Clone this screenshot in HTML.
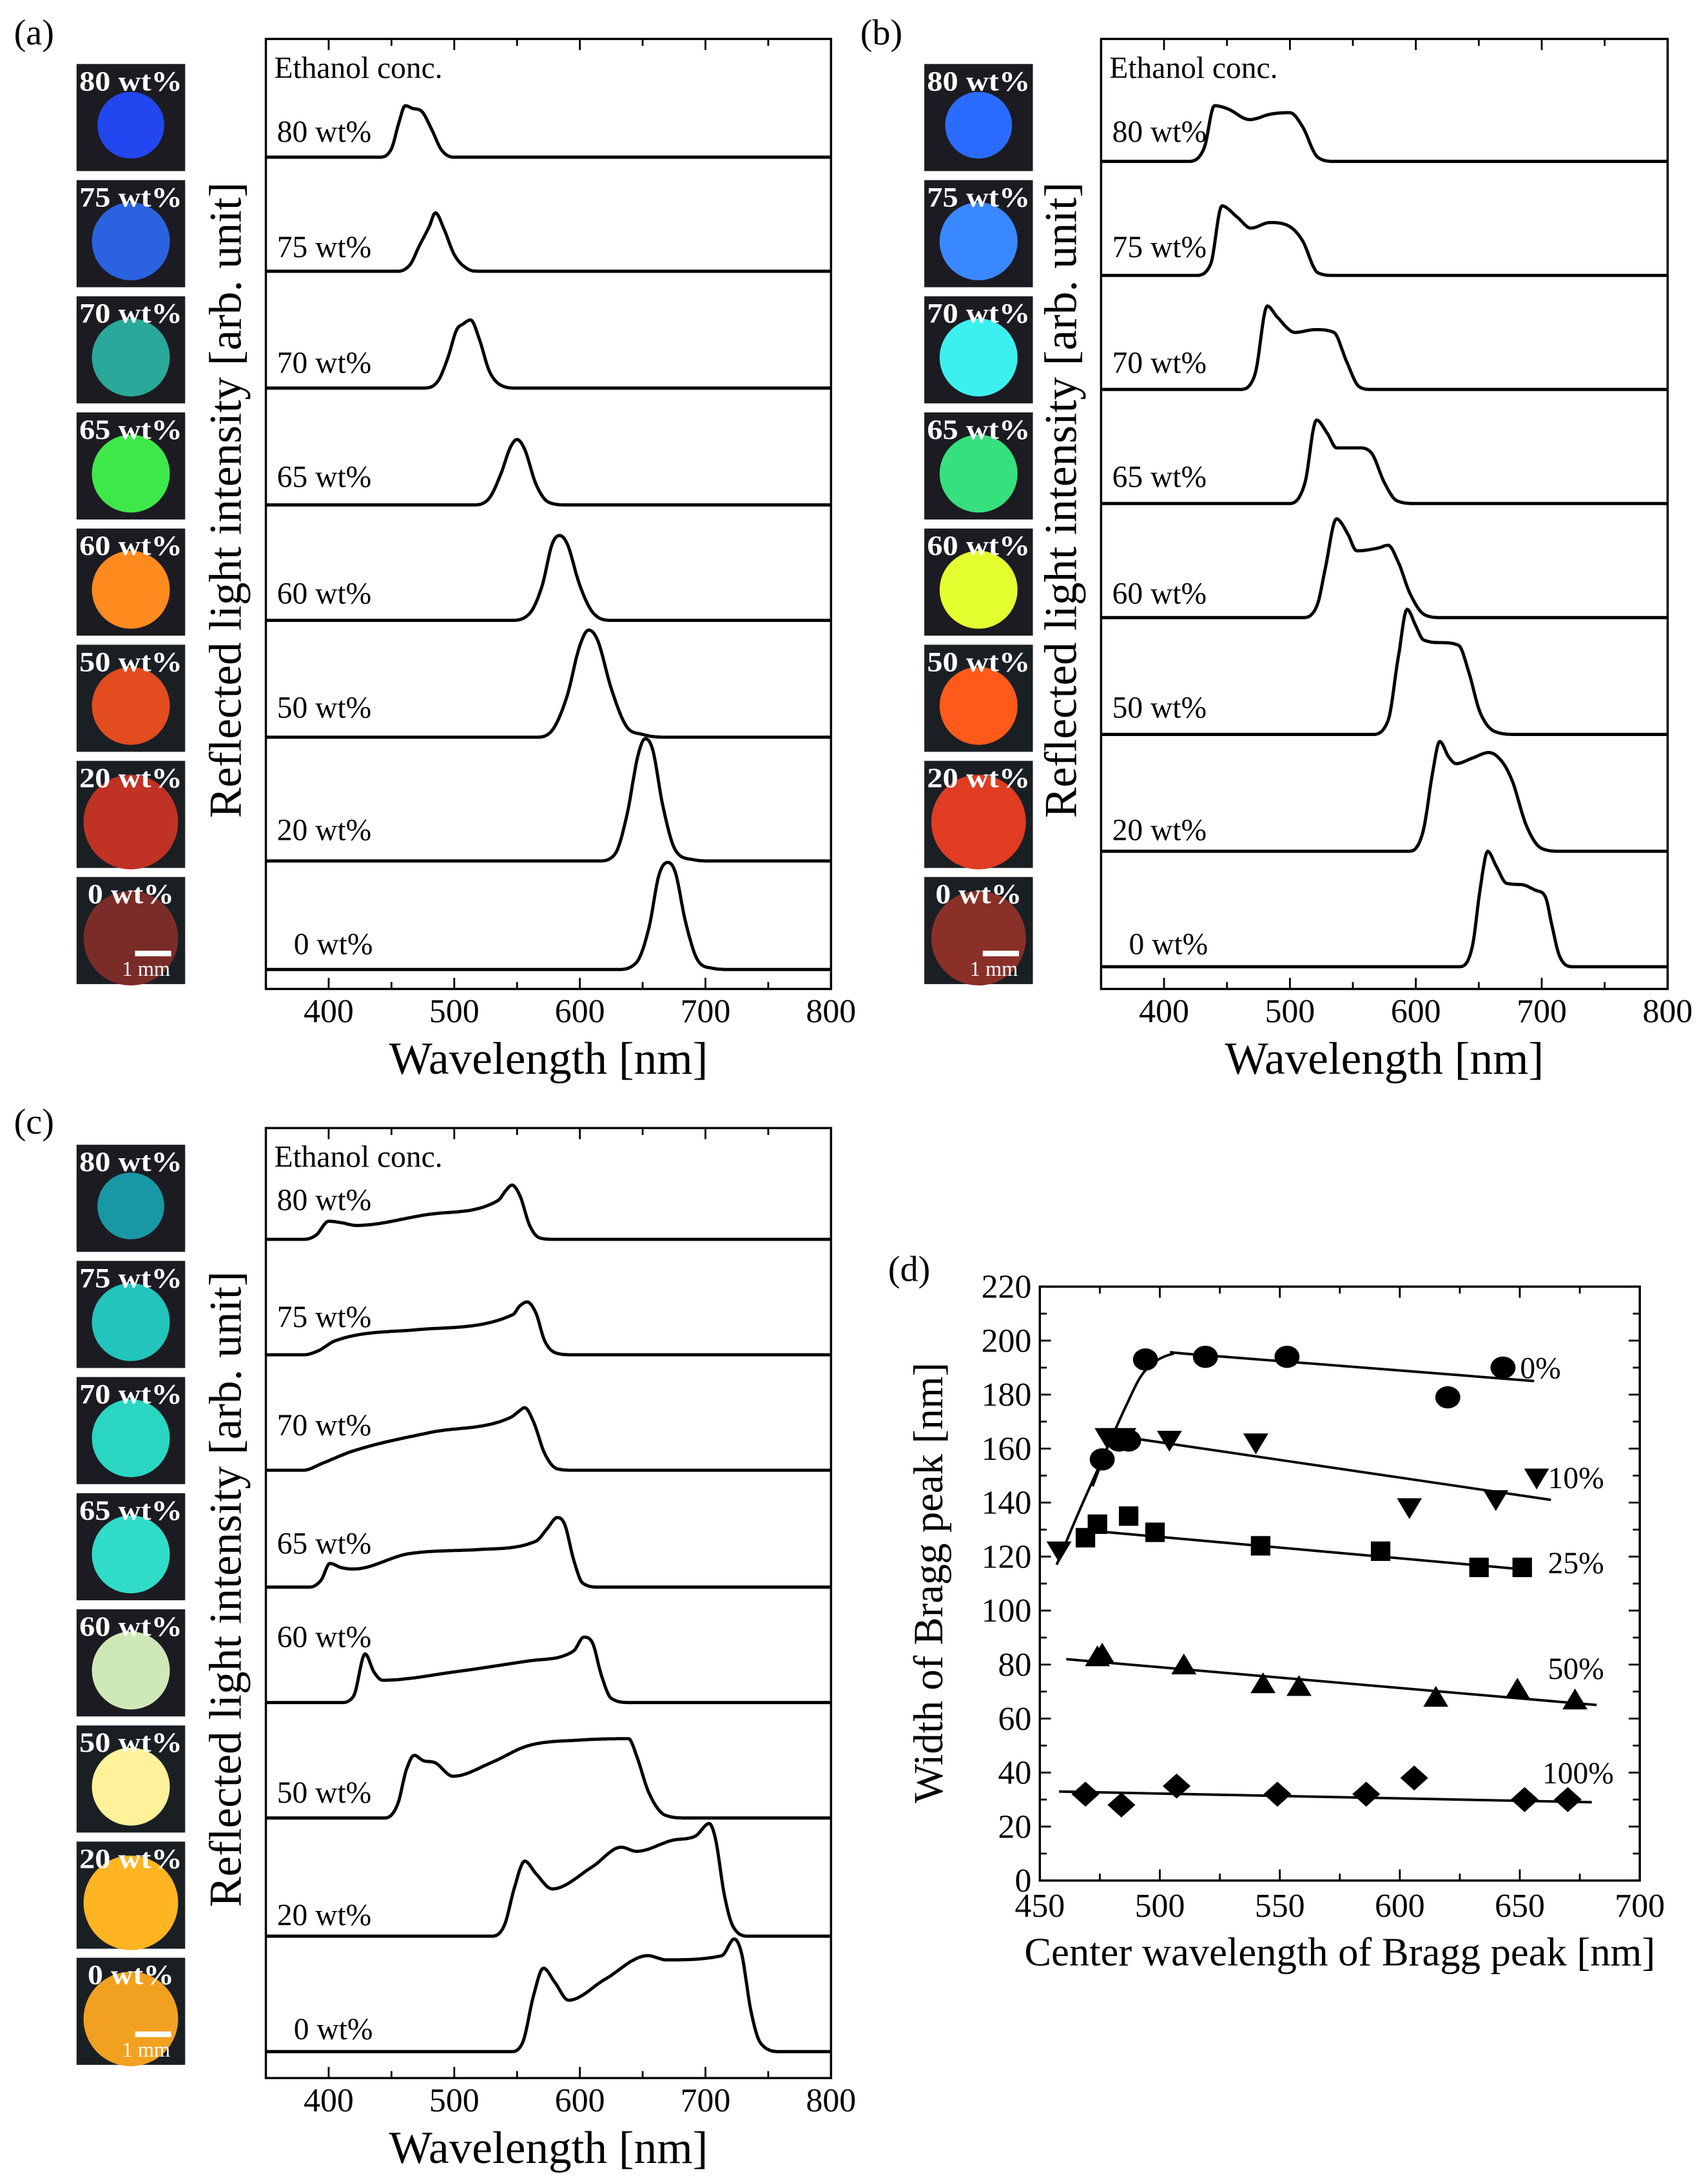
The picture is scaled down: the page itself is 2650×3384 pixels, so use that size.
<!DOCTYPE html>
<html><head><meta charset="utf-8"><style>
html,body{margin:0;padding:0;background:#fff}
svg{display:block}
text{font-family:"Liberation Serif",serif;fill:#000}
</style></head><body>
<svg id="fig" width="2650" height="3384" viewBox="0 0 1227 1568" preserveAspectRatio="none" xmlns="http://www.w3.org/2000/svg">
<rect width="1227" height="1568" fill="#fff"/>
</svg>
<script>
// ---------- spectra data: [wavelength nm, relative height] ----------
const labels = ["80 wt%","75 wt%","70 wt%","65 wt%","60 wt%","50 wt%","20 wt%","0 wt%"];
const specA = [
 [[440,0],[450,6],[456,25],[461,37],[467,35],[474,33],[482,20],[490,5],[500,0]],
 [[455,0],[465,5],[472,18],[480,32],[485,42],[492,30],[500,12],[510,2],[520,0]],
 [[475,0],[487,5],[495,22],[502,42],[507,46],[513,49],[520,35],[528,12],[540,1],[550,0]],
 [[515,0],[528,5],[537,22],[545,42],[550,47],[556,40],[565,15],[575,2],[590,0]],
 [[545,0],[560,5],[570,25],[578,55],[584,61],[590,55],[600,25],[610,6],[625,0]],
 [[565,0],[578,5],[590,30],[600,66],[607,77],[614,70],[625,35],[637,8],[650,2],[670,0]],
 [[615,0],[628,5],[638,35],[646,75],[652,88],[658,80],[666,40],[676,8],[690,1],[705,0]],
 [[630,0],[645,5],[655,30],[663,68],[670,77],[676,70],[684,35],[693,8],[705,1],[720,0]]
];
const specB = [
 [[420,0],[432,10],[440,40],[450,38],[468,30],[485,34],[500,35],[510,25],[522,3],[535,0]],
 [[425,0],[437,8],[446,50],[458,42],[469,34],[484,38],[500,35],[510,25],[522,2],[535,0]],
 [[460,0],[472,10],[482,60],[490,52],[504,41],[520,43],[535,41],[545,20],[555,2],[565,0]],
 [[500,0],[512,15],[521,60],[530,50],[537,40],[555,40],[565,36],[575,15],[585,2],[600,0]],
 [[510,0],[522,10],[528,35],[537,71],[546,60],[553,48],[570,50],[578,52],[586,40],[595,18],[607,2],[620,0]],
 [[565,0],[578,10],[586,55],[593,90],[600,78],[606,68],[620,66],[634,64],[642,45],[651,16],[663,2],[680,0]],
 [[595,0],[606,15],[613,55],[619,79],[626,68],[632,63],[645,67],[658,71],[668,65],[676,52],[688,18],[700,2],[715,0]],
 [[635,0],[645,15],[651,55],[657,83],[664,72],[672,60],[684,59],[695,55],[703,50],[708,30],[714,8],[725,0]]
];
const specC = [
 [[380,0],[390,3],[400,13],[410,12],[422,10],[480,18],[535,28],[541,35],[546,39],[552,32],[560,10],[568,1],[580,0]],
 [[380,0],[392,3],[405,10],[470,18],[547,29],[552,35],[558,38],[565,30],[572,10],[582,1],[595,0]],
 [[380,0],[395,5],[420,14],[480,27],[545,38],[551,42],[556,45],[563,35],[572,12],[582,1],[595,0]],
 [[385,0],[394,5],[401,17],[410,14],[420,13],[464,24],[520,27],[565,33],[574,42],[582,50],[588,45],[595,20],[602,3],[615,0]],
 [[410,0],[420,5],[429,35],[436,22],[443,16],[500,22],[560,30],[595,37],[603,47],[610,43],[617,20],[625,3],[640,0]],
 [[445,0],[455,10],[462,35],[468,45],[476,41],[484,40],[499,30],[530,40],[559,52],[600,56],[639,57],[645,45],[655,18],[668,2],[685,0]],
 [[530,0],[540,8],[548,35],[556,54],[565,45],[578,34],[610,50],[633,64],[645,61],[674,69],[692,72],[703,81],[708,70],[715,30],[722,7],[735,0]],
 [[545,0],[555,8],[563,40],[571,60],[580,50],[591,37],[620,52],[654,69],[669,66],[713,69],[723,81],[729,70],[736,30],[744,6],[760,0]]
];
const xTicks = [400,500,600,700,800];
const colorsA = ["#2246f0","#2a62e0","#2aa89a","#3fe84a","#ff8a1e","#e24c1e","#bf3224","#7a2c28"];
const colorsB = ["#2a6cff","#3a88ff","#3cf0f0","#36e07c","#e4ff30","#ff5a1c","#e03c22","#8a3028"];
const colorsC = ["#1898a4","#22c4bc","#2ad6c2","#30dcc8","#cfe8b8","#fff29a","#ffb422","#f2a020"];
// ---------- panel d data ----------
const dX = [450,500,550,600,650,700];
const dY = [0,20,40,60,80,100,120,140,160,180,200,220];
const s0x=[476,483,487,494,519,553,620,643], s0y=[156,163,163,193,194,194,179,190];
const s10x=[458,478,485,504,540,604,640,657], s10y=[122,164,164,163,162,138,141,149];
const s25x=[469,474,487,498,542,592,633,651], s25y=[127,132,135,129,124,122,116,116];
const s50x=[474,476,510,543,558,615,649,673], s50y=[83,84,80,73,72,68,71,67];
const s100x=[469,484,507,549,586,606,652,670], s100y=[32,28,35,32,32,38,30,30];
const fit0x=[457,466,476,486,494,505,520,656], fit0y=[117,136,156,176,189,195,194.5,185];
const fit10x=[472,480,663], fit10y=[146,165,141];
const fit25x=[466,655], fit25y=[130,115];
const fit50x=[461,682], fit50y=[82,65];
const fit100x=[458,680], fit100y=[33,29];

const NS="http://www.w3.org/2000/svg";
const svg=document.getElementById('fig');
function mk(tag,attrs,parent,txt){const e=document.createElementNS(NS,tag);for(const k in attrs)e.setAttribute(k,attrs[k]);if(txt!==undefined)e.textContent=txt;(parent||svg).appendChild(e);return e;}
function monotone(xa,ya){
 const n=xa.length,d=[],m=new Array(n).fill(0);
 for(let i=0;i<n-1;i++)d.push((ya[i+1]-ya[i])/(xa[i+1]-xa[i]));
 m[0]=d[0];m[n-1]=d[n-2];
 for(let i=1;i<n-1;i++){m[i]=(d[i-1]*d[i]<=0)?0:(d[i-1]+d[i])/2;}
 for(let i=0;i<n-1;i++){if(d[i]===0){m[i]=0;m[i+1]=0;continue;}
  const a=m[i]/d[i],b=m[i+1]/d[i],s=a*a+b*b;if(s>9){const t=3/Math.sqrt(s);m[i]=t*a*d[i];m[i+1]=t*b*d[i];}}
 return function(x){let i=0;while(i<n-2&&x>xa[i+1])i++;
  const h=xa[i+1]-xa[i],t=(x-xa[i])/h,t2=t*t,t3=t2*t;
  return (2*t3-3*t2+1)*ya[i]+(t3-2*t2+t)*h*m[i]+(-2*t3+3*t2)*ya[i+1]+(t3-t2)*h*m[i+1];};
}
function smoothPath(pts){
 let d="M"+pts[0][0].toFixed(1)+","+pts[0][1].toFixed(1);
 for(let i=0;i<pts.length-1;i++){
  const p0=pts[Math.max(0,i-1)],p1=pts[i],p2=pts[i+1],p3=pts[Math.min(pts.length-1,i+2)];
  const c1x=p1[0]+(p2[0]-p0[0])/6,c1y=p1[1]+(p2[1]-p0[1])/6,c2x=p2[0]-(p3[0]-p1[0])/6,c2y=p2[1]-(p3[1]-p1[1])/6;
  d+=" C"+c1x.toFixed(1)+","+c1y.toFixed(1)+" "+c2x.toFixed(1)+","+c2y.toFixed(1)+" "+p2[0].toFixed(1)+","+p2[1].toFixed(1);
 }
 return d;
}

function spectraPanel(cfg){
 const g=mk('g',{});
 
 
 const L=cfg.left,R=cfg.right,T=cfg.top,B=cfg.bottom;
 const xs=w=>L+(w-350)*(R-L)/450;
 const lab=mk('text',{x:cfg.labX,y:T+4,'font-size':26},g,cfg.letter);
 
 
 for(let i=0;i<8;i++){
  const ty=cfg.photoTop+i*83.5;
  const tg=mk('g',{},g);
  
  
  mk('rect',{x:cfg.photoX,y:ty,width:78,height:77,fill:i<5?'#1c1b22':'#1a1f24'},tg);
  const r=i>=6?34:(i===0?24:28);
  mk('circle',{cx:cfg.photoX+39,cy:ty+44,r:r,fill:cfg.colors[i]},tg);
  mk('text',{x:cfg.photoX+39,y:ty+19,'font-size':20,'font-weight':'bold','text-anchor':'middle',textLength:(i===7?62:74),lengthAdjust:'spacingAndGlyphs',style:'fill:#fff'},tg,labels[i]);
  if(i===7){mk('rect',{x:cfg.photoX+42,y:ty+53,width:26,height:4,fill:'#fff'},tg);
   mk('text',{x:cfg.photoX+50,y:ty+71,'font-size':15,'text-anchor':'middle',style:'fill:#fff'},tg,'1 mm');}
 }
 const fr=mk('rect',{x:L,y:T,width:R-L,height:B-T,fill:'none',stroke:'#000','stroke-width':1.6},g);
 
 
 for(let w=350;w<=800;w+=50){
  const x=xs(w),len=(w%100===0)?8:5;
  mk('line',{x1:x,y1:B,x2:x,y2:B-len,stroke:'#000','stroke-width':1.3},g);
  mk('line',{x1:x,y1:T,x2:x,y2:T+len,stroke:'#000','stroke-width':1.3},g);
 }
 xTicks.forEach(w=>{const t=mk('text',{x:xs(w),y:B+24,'font-size':24,'text-anchor':'middle'},g,String(w));
  
  });
 const xt=mk('text',{x:(L+R)/2,y:B+61,'font-size':33,'text-anchor':'middle'},g,'Wavelength [nm]');
 
 
 const yt=mk('text',{x:0,y:0,'font-size':33,'text-anchor':'middle',transform:'translate('+(L-18)+','+((T+B)/2-10)+') rotate(-90)'},g,'Reflected light intensity [arb. unit]');
 
 
 const et=mk('text',{x:L+6,y:T+28,'font-size':22},g,'Ethanol conc.');
 
 
 cfg.spec.forEach((sp,i)=>{
  const base=cfg.bases[i];
  const all=[[350,0]].concat(sp).concat([[800,0]]);
  const f=monotone(all.map(p=>p[0]),all.map(p=>p[1]));
  let d='';
  for(let w=350;w<=800;w+=1){d+=(w===350?'M':' L')+xs(w).toFixed(1)+','+(base-f(w)).toFixed(1);}
  const p=mk('path',{d:d,fill:'none',stroke:'#000','stroke-width':2.3,'stroke-linejoin':'round'},g);
  
  
  const t=mk('text',{x:L+(i===7?20:8),y:cfg.labY[i],'font-size':22},g,labels[i]);
  
  
 });
}
spectraPanel({name:'panel-a',letter:'(a)',labX:10,left:191,right:597,top:28,bottom:711,photoX:55,photoTop:46,colors:colorsA,spec:specA,
 bases:[113,195,279,363,446,530,619,697],labY:[102,185,268,350,434,516,604,686]});
spectraPanel({name:'panel-b',letter:'(b)',labX:618,left:791,right:1198,top:28,bottom:711,photoX:664,photoTop:46,colors:colorsB,spec:specB,
 bases:[116,198,280,362,444,528,612,695],labY:[102,185,268,350,434,516,604,686]});
spectraPanel({name:'panel-c',letter:'(c)',labX:10,left:191,right:597,top:811,bottom:1494,photoX:55,photoTop:823,colors:colorsC,spec:specC,
 bases:[891,974,1057,1141,1224,1307,1392,1475],labY:[870,954,1032,1117,1184,1296,1384,1466]});

// ---------- panel d ----------
(function(){
 const g=mk('g',{});
 
 
 const L=747,R=1178,T=925,B=1352;
 const xs=v=>L+(v-450)*(R-L)/250, ys=v=>B-v*(B-T)/220;
 const lab=mk('text',{x:638,y:921,'font-size':26},g,'(d)');
 
 
 const fr=mk('rect',{x:L,y:T,width:R-L,height:B-T,fill:'none',stroke:'#000','stroke-width':1.6},g);
 
 
 for(let v=450;v<=700;v+=25){const x=xs(v),len=v%50===0?8:5;
  mk('line',{x1:x,y1:B,x2:x,y2:B-len,stroke:'#000','stroke-width':1.3},g);
  mk('line',{x1:x,y1:T,x2:x,y2:T+len,stroke:'#000','stroke-width':1.3},g);}
 for(let v=0;v<=220;v+=10){const y=ys(v),len=v%20===0?8:5;
  mk('line',{x1:L,y1:y,x2:L+len,y2:y,stroke:'#000','stroke-width':1.3},g);
  mk('line',{x1:R,y1:y,x2:R-len,y2:y,stroke:'#000','stroke-width':1.3},g);}
 dX.forEach(v=>{const t=mk('text',{x:xs(v),y:B+26,'font-size':24,'text-anchor':'middle'},g,String(v));
  
  });
 dY.forEach(v=>{const t=mk('text',{x:L-6,y:ys(v)+8,'font-size':24,'text-anchor':'end'},g,String(v));
  
  });
 const xt=mk('text',{x:(L+R)/2,y:B+61,'font-size':29,'text-anchor':'middle'},g,'Center wavelength of Bragg peak [nm]');
 
 
 const yt=mk('text',{x:0,y:0,'font-size':30,'text-anchor':'middle',transform:'translate(677,1138) rotate(-90)'},g,'Width of Bragg peak [nm]');
 
 
 function fit(xa,ya,name,smooth){
  const pts=xa.map((x,i)=>[xs(x),ys(ya[i])]);
  const d=smooth?smoothPath(pts):'M'+pts.map(p=>p[0].toFixed(1)+','+p[1].toFixed(1)).join(' L');
  const p=mk('path',{d:d,fill:'none',stroke:'#000','stroke-width':1.8},g);
  
  
 }
 fit(fit0x,fit0y,'fit-line-0pct',true);
 fit(fit10x,fit10y,'fit-line-10pct',false);
 fit(fit25x,fit25y,'fit-line-25pct',false);
 fit(fit50x,fit50y,'fit-line-50pct',false);
 fit(fit100x,fit100y,'fit-line-100pct',false);
 function markers(xa,ya,shape,name){
  xa.forEach((v,i)=>{const x=xs(v),y=ys(ya[i]);let e;
   if(shape==='circle')e=mk('ellipse',{cx:x,cy:y,rx:9,ry:8},g);
   else if(shape==='square')e=mk('rect',{x:x-7,y:y-7,width:14,height:14},g);
   else if(shape==='down')e=mk('polygon',{points:(x-9)+','+(y-7)+' '+(x+9)+','+(y-7)+' '+x+','+(y+8)},g);
   else if(shape==='up')e=mk('polygon',{points:(x-9)+','+(y+7)+' '+(x+9)+','+(y+7)+' '+x+','+(y-8)},g);
   else e=mk('polygon',{points:x+','+(y-9)+' '+(x+10)+','+y+' '+x+','+(y+9)+' '+(x-10)+','+y},g);
   
   });
 }
 markers(s0x,s0y,'circle','point-0pct');
 markers(s10x,s10y,'down','point-10pct');
 markers(s25x,s25y,'square','point-25pct');
 markers(s50x,s50y,'up','point-50pct');
 markers(s100x,s100y,'diamond','point-100pct');
 [['0%',1092,991],['10%',1112,1070],['25%',1112,1131],['50%',1112,1207],['100%',1108,1282]].forEach(s=>{
  const t=mk('text',{x:s[1],y:s[2],'font-size':22},g,s[0]);
  
  });
})();
</script>
</body></html>
